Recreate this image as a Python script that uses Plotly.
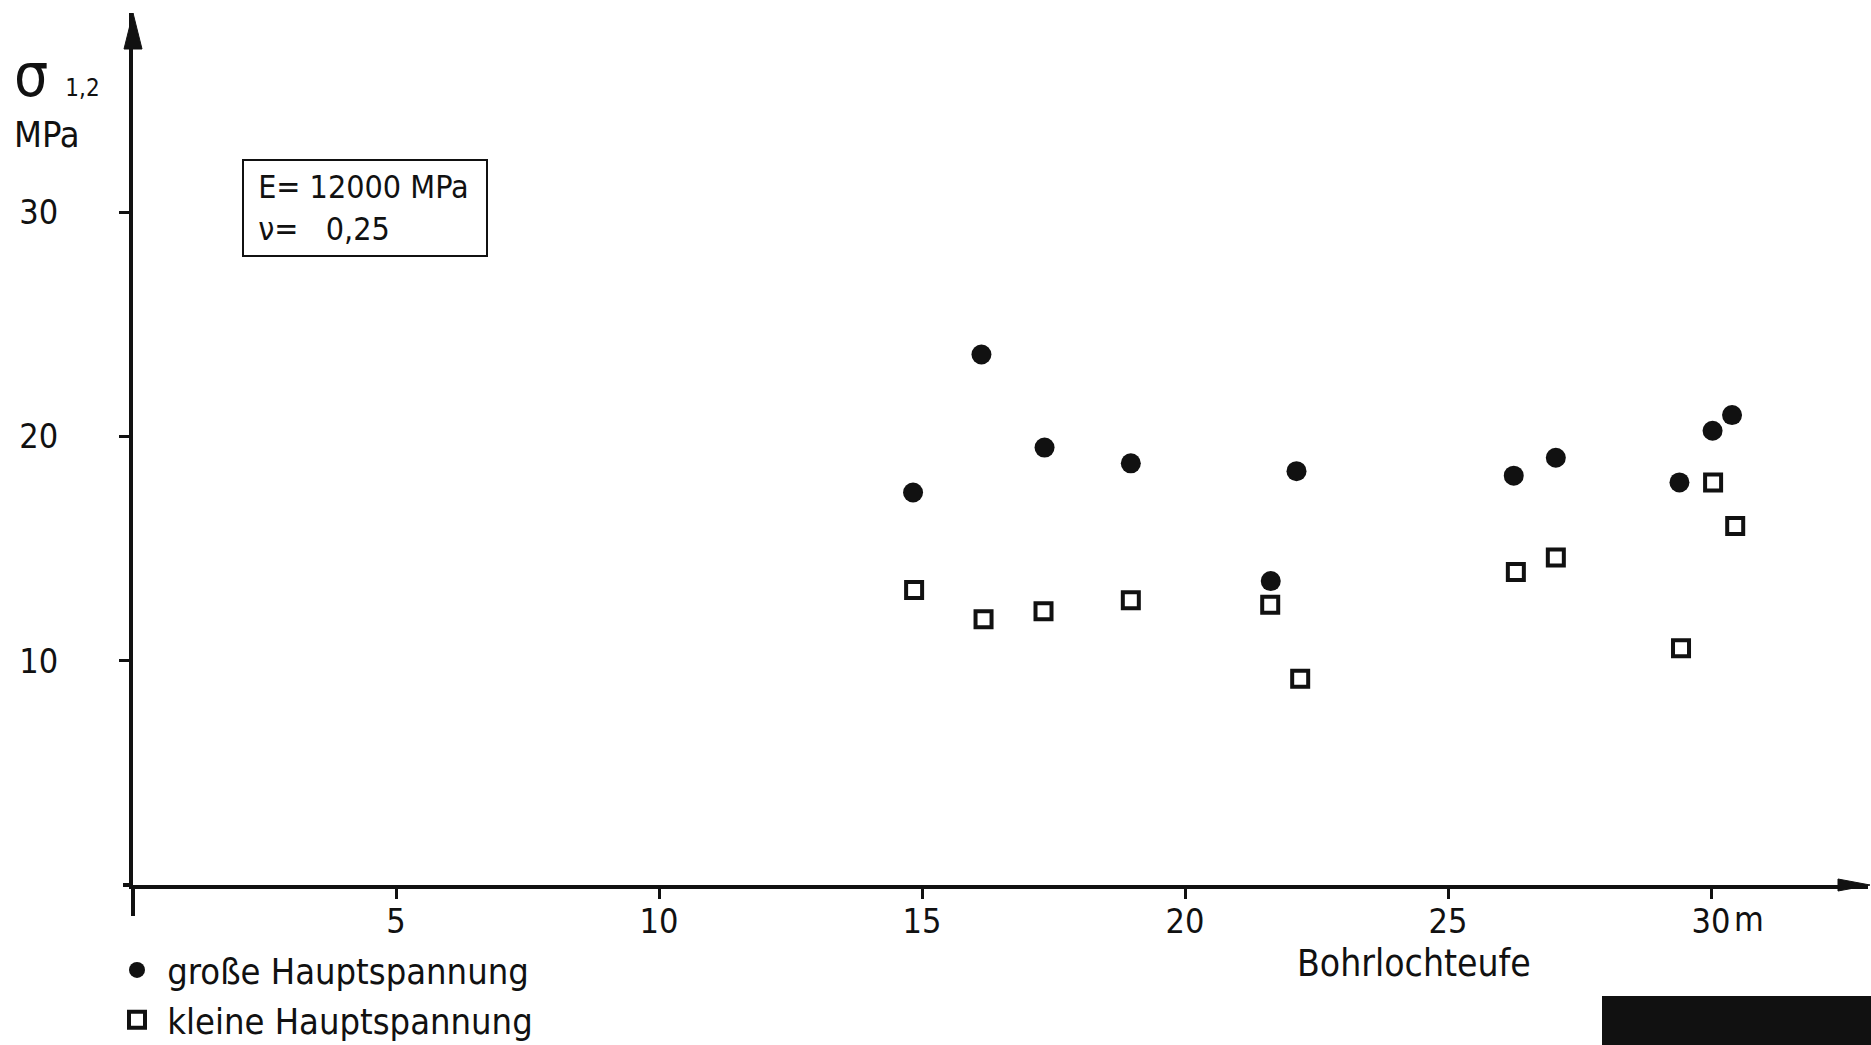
import plotly.graph_objects as go

# ---- data ----
depth_gross = [14.83, 16.13, 17.33, 18.97, 21.63, 22.12, 26.25, 27.05, 29.40, 30.03, 30.40]
sigma_gross = [17.5, 23.65, 19.5, 18.8, 13.55, 18.45, 18.25, 19.05, 17.95, 20.25, 20.95]
depth_klein = [14.85, 16.17, 17.31, 18.97, 21.62, 22.19, 26.29, 27.05, 29.43, 30.04, 30.46]
sigma_klein = [13.15, 11.85, 12.2, 12.7, 12.5, 9.2, 13.95, 14.6, 10.55, 17.95, 16.0]

x_tickvals = [5, 10, 15, 20, 25, 30]
x_ticktext = ["5", "10", "15", "20", "25", "30"]
y_tickvals = [10, 20, 30]
y_ticktext = ["10", "20", "30"]

name_gross = "große Hauptspannung"
name_klein = "kleine Hauptspannung"
x_title = "Bohrlochteufe"
x_unit = "m"
y_symbol = "σ"
y_index = "1,2"
y_unit = "MPa"
param_lines = ["E=\u00a012000\u00a0MPa", "ν=\u00a0\u00a0\u00a00,25"]

INK = "#111111"
FONT = "DejaVu Sans Condensed, DejaVu Sans, sans-serif"

W, H = 1871, 1045
L, R, T, B = 133, 3, 13, 160
px_x = 52.6
px_y = 22.43
PW = W - L - R
PH = H - T - B
x_max = PW / px_x
y_max = PH / px_y


def px2paper_x(px):
    return (px - L) / PW


def px2paper_y(py):
    return (H - B - py) / PH


fig = go.Figure()
fig.add_trace(go.Scatter(
    x=depth_gross, y=sigma_gross, mode="markers", name="\u00a0" + name_gross,
    marker=dict(symbol="circle", size=20, color=INK, line=dict(width=0)),
    legendgroup="g1",
))
fig.add_trace(go.Scatter(
    x=depth_klein, y=sigma_klein, mode="markers", name="\u00a0" + name_klein,
    marker=dict(symbol="square-open", size=16, color=INK, line=dict(width=4, color=INK)),
    legendgroup="g2",
))

axis_common = dict(
    showgrid=False, zeroline=False, showline=True, linecolor=INK, linewidth=4,
    ticks="outside", ticklen=10, tickwidth=3, tickcolor=INK,
    tickfont=dict(family=FONT, size=34, color=INK),
    fixedrange=True, automargin=False,
)
fig.update_xaxes(range=[0, x_max], tickmode="array", tickvals=x_tickvals,
                 ticktext=x_ticktext, ticklabelstandoff=-7, **axis_common)
fig.update_yaxes(range=[0, y_max], tickmode="array", tickvals=y_tickvals,
                 ticktext=y_ticktext, ticklabelstandoff=54, **axis_common)

# small axis overhangs past the origin
fig.add_shape(type="line", xref="paper", yref="paper", x0=0, x1=0,
              y0=px2paper_y(916), y1=0, line=dict(color=INK, width=4))
fig.add_shape(type="line", xref="paper", yref="paper", x0=px2paper_x(123), x1=0,
              y0=0, y1=0, line=dict(color=INK, width=4))
# arrowheads (paper-anchored so they are not clipped)
fig.add_shape(type="path", xref="paper", yref="paper", xsizemode="pixel", ysizemode="pixel",
              xanchor=0, yanchor=1, path="M 0 0 L -9 -36 L 9 -36 Z",
              fillcolor=INK, line=dict(color=INK, width=1))
fig.add_shape(type="path", xref="paper", yref="paper", xsizemode="pixel", ysizemode="pixel",
              xanchor=1, yanchor=0, path="M 2 0 L -30 6 L -30 -6 Z",
              fillcolor=INK, line=dict(color=INK, width=1))

# black block (scan artefact) at bottom right
fig.add_shape(type="rect", xref="paper", yref="paper",
              x0=px2paper_x(1602), x1=px2paper_x(1875),
              y0=px2paper_y(1048), y1=px2paper_y(996),
              fillcolor=INK, line=dict(width=0), layer="above")

box_w, box_h, box_pad, box_bw = 246, 98, 5, 2
annos = [
    dict(text=y_symbol + "\u00a0<span style='font-size:24px'>" + y_index + "</span>",
         xref="paper", yref="paper", x=px2paper_x(12), y=px2paper_y(38),
         xanchor="left", yanchor="top", showarrow=False,
         font=dict(family=FONT, size=60, color=INK)),
    dict(text=y_unit, xref="paper", yref="paper", x=px2paper_x(12), y=px2paper_y(112),
         xanchor="left", yanchor="top", showarrow=False,
         font=dict(family=FONT, size=36, color=INK)),
    dict(text="<br>".join("\u00a0" + s for s in param_lines),
         xref="paper", yref="paper", x=px2paper_x(242), y=px2paper_y(159),
         xanchor="left", yanchor="top", showarrow=False, align="left", valign="middle",
         width=box_w - 2 * (box_pad + box_bw), height=box_h - 2 * (box_pad + box_bw),
         bordercolor=INK, borderwidth=box_bw, borderpad=box_pad, bgcolor="white",
         font=dict(family=FONT, size=32, color=INK)),
    dict(text=x_title, xref="x", yref="paper", x=24.35, y=px2paper_y(940),
         xanchor="center", yanchor="top", showarrow=False,
         font=dict(family=FONT, size=37, color=INK)),
    dict(text=x_unit, xref="x", yref="paper", x=x_tickvals[-1], y=px2paper_y(897),
         xanchor="left", yanchor="top", xshift=21, showarrow=False,
         font=dict(family=FONT, size=34, color=INK)),
]

fig.update_layout(
    width=W, height=H,
    margin=dict(l=L, r=R, t=T, b=B, pad=0, autoexpand=False),
    paper_bgcolor="white", plot_bgcolor="white",
    showlegend=True,
    legend=dict(x=px2paper_x(117), y=px2paper_y(940),
                xanchor="left", yanchor="top", traceorder="grouped", tracegroupgap=0,
                font=dict(family=FONT, size=36, color=INK), bgcolor="rgba(0,0,0,0)",
                itemwidth=30),
    annotations=annos,
    hovermode=False,
)

fig.write_html("out.html")
